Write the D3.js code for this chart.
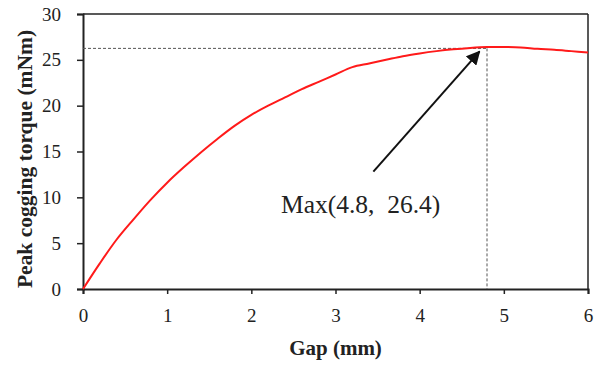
<!DOCTYPE html>
<html><head><meta charset="utf-8">
<script src="https://cdn.jsdelivr.net/npm/d3@7"></script>
<style>body{margin:0;background:#fff}svg{display:block}</style>
</head><body><svg id="c" width="606" height="366"></svg>
<script>
const gap = [0,0.2,0.4,0.6,0.8,1.0,1.2,1.4,1.6,1.8,2.0,2.2,2.4,2.6,2.8,3.0,3.2,3.4,3.6,3.8,4.0,4.2,4.4,4.6,4.8,5.0,5.2,5.4,5.6,5.8,6.0];
const torque = [0,2.8,5.4,7.6,9.7,11.6,13.3,14.9,16.4,17.8,19.0,20.0,20.9,21.8,22.6,23.4,24.2,24.6,25.0,25.4,25.7,25.95,26.15,26.3,26.4,26.4,26.35,26.2,26.1,25.95,25.8];
const xTicks = [0,1,2,3,4,5,6];
const yTicks = [0,5,10,15,20,25,30];
const maxPoint = [4.8, 26.4];
const guideY = 26.25;
const arrowFrom = [3.45, 12.8];
const arrowTo = [4.71, 25.9];
const labelText = "Max(4.8,\u00a0 26.4)";

const svg = d3.select("#c");
const m = {l:83, r:18, t:14, b:77};
const W = 606, H = 366;
const x = d3.scaleLinear().domain([0,6]).range([m.l, W-m.r]);
const y = d3.scaleLinear().domain([0,30]).range([H-m.b, m.t]);
const serif = "'Liberation Serif','Times New Roman',serif";

// frame top/right
svg.append("line").attr("x1",x(0)).attr("x2",x(6)).attr("y1",y(30)).attr("y2",y(30)).attr("stroke","#222").attr("stroke-width",1.5);
svg.append("line").attr("x1",x(6)).attr("x2",x(6)).attr("y1",y(30)).attr("y2",y(0)).attr("stroke","#222").attr("stroke-width",1.5);

// axes
const xa = svg.append("g").attr("transform",`translate(0,${y(0)})`)
  .call(d3.axisBottom(x).tickValues(xTicks).tickSize(5).tickPadding(15).tickFormat(d3.format("d")));
const ya = svg.append("g").attr("transform",`translate(${x(0)},0)`)
  .call(d3.axisLeft(y).tickValues(yTicks).tickSize(6).tickPadding(16).tickFormat(d3.format("d")));
[xa,ya].forEach(a=>{
  a.attr("font-family",null).attr("font-size",null);
  a.select(".domain").attr("stroke","#222").attr("stroke-width",2);
  a.selectAll(".tick line").attr("stroke","#222").attr("stroke-width",1.5);
  a.selectAll("text").style("font-family",serif).style("font-size","19px").attr("fill","#222");
});

// guides
svg.append("line").attr("x1",x(0)).attr("x2",x(maxPoint[0])).attr("y1",y(guideY)).attr("y2",y(guideY))
  .attr("stroke","#555").attr("stroke-width",1).attr("stroke-dasharray","3,2");
svg.append("line").attr("x1",x(maxPoint[0])).attr("x2",x(maxPoint[0])).attr("y1",y(guideY)).attr("y2",y(0))
  .attr("stroke","#555").attr("stroke-width",1).attr("stroke-dasharray","3,2");

// curve
const data = gap.map((g,i)=>[g,torque[i]]);
svg.append("path").datum(data)
  .attr("d", d3.line().x(d=>x(d[0])).y(d=>y(d[1])).curve(d3.curveCatmullRom))
  .attr("fill","none").attr("stroke","#ff1a1a").attr("stroke-width",2);

// arrow
svg.append("defs").append("marker").attr("id","ah").attr("viewBox","0 0 10 10")
  .attr("refX",9).attr("refY",5).attr("markerWidth",7).attr("markerHeight",7).attr("orient","auto")
  .attr("markerUnits","strokeWidth")
  .append("path").attr("d","M0,0 L10,5 L0,10 z").attr("fill","#111");
svg.append("line").attr("x1",x(arrowFrom[0])).attr("y1",y(arrowFrom[1]))
  .attr("x2",x(arrowTo[0])).attr("y2",y(arrowTo[1]))
  .attr("stroke","#111").attr("stroke-width",2).attr("marker-end","url(#ah)");

// label
svg.append("text").attr("x",281).attr("y",213).style("font-family",serif).style("font-size","25.5px")
  .attr("fill","#222").text(labelText);

// axis titles
svg.append("text").attr("x",(x(0)+x(6))/2).attr("y",355).attr("text-anchor","middle")
  .style("font-family",serif).style("font-weight","bold").style("font-size","21px").attr("fill","#222").text("Gap (mm)");
svg.append("text").attr("transform",`translate(32,159) rotate(-90)`).attr("text-anchor","middle")
  .style("font-family",serif).style("font-weight","bold").style("font-size","21.5px").attr("fill","#222").text("Peak cogging torque (mNm)");
</script></body></html>
